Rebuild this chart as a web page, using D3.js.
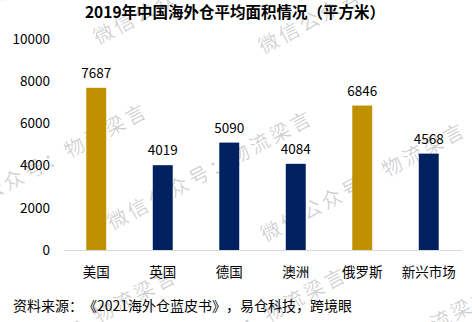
<!DOCTYPE html>
<html>
<head>
<meta charset="utf-8">
<script src="https://cdn.jsdelivr.net/npm/d3@7/dist/d3.min.js"></script>
<style>
  html, body { margin: 0; padding: 0; background: #fff; }
  svg { display: block; font-family: "Noto Sans CJK SC", "Noto Sans", sans-serif; text-spacing-trim: space-all; }
</style>
</head>
<body>
<svg id="chart" width="472" height="322"></svg>
<script>
// 2019年中国海外仓平均面积（平方米）
const categories = ["美国", "英国", "德国", "澳洲", "俄罗斯", "新兴市场"];
const areas = [7687, 4019, 5090, 4084, 6846, 4568];
const highlight = [true, false, false, false, true, false];
const yTicks = [0, 2000, 4000, 6000, 8000, 10000];
const titleText = "2019年中国海外仓平均面积情况（平方米）";
const sourceText = "资料来源：《2021海外仓蓝皮书》，易仓科技，跨境眼";
const watermarkText = "微信公众号：物流梁言";

// Layout
const W = 472, H = 322;
const plot = { left: 63, right: 462, top: 39, bottom: 250 };
const colors = { gold: "#BF9000", navy: "#002060", axis: "#d9d9d9", text: "#000" };
// Watermark tiles (first-glyph centres)
const wmSpots = [[-62, 24], [103, 33], [268, 42],
                 [-48, 211], [117, 218], [270, 230],
                 [-19, 376], [151, 375], [298, 395]];

const svg = d3.select("#chart");

// watermark layer, beneath the bars
const wm = svg.append("g").attr("class", "watermark");
wmSpots.forEach(([x, y]) => {
  wm.append("text")
    .attr("transform", `translate(${x},${y}) rotate(-28)`)
    .attr("x", -10)
    .attr("dominant-baseline", "central")
    .attr("font-size", 20)
    .attr("letter-spacing", 3)
    .attr("fill", "#000")
    .attr("fill-opacity", 0.19)
    .text(watermarkText);
});

const x = d3.scaleBand()
  .domain(categories)
  .range([plot.left, plot.right])
  .paddingInner(0.7)
  .paddingOuter(0.35);

const y = d3.scaleLinear()
  .domain([0, 10000])
  .range([plot.bottom, plot.top]);

// title
svg.append("text")
  .attr("x", 235)
  .attr("y", 18)
  .attr("text-anchor", "middle")
  .attr("font-size", 15.5)
  .attr("font-weight", "bold")
  .attr("fill", colors.text)
  .text(titleText);

// y axis labels (no line, no ticks)
const yAxis = svg.append("g")
  .attr("transform", `translate(${plot.left - 13},0)`)
  .call(d3.axisLeft(y).tickValues(yTicks).tickSize(0).tickPadding(0).tickFormat(d3.format("d")));
yAxis.select(".domain").remove();
yAxis.selectAll("text")
  .attr("font-size", 13.5)
  .attr("font-family", "'Noto Sans CJK SC', 'Noto Sans', sans-serif")
  .attr("fill", colors.text);

// bars
const data = categories.map((c, i) => ({ c, v: areas[i], hi: highlight[i] }));
svg.append("g").selectAll("rect")
  .data(data)
  .join("rect")
  .attr("x", d => x(d.c))
  .attr("y", d => y(d.v))
  .attr("width", x.bandwidth())
  .attr("height", d => y(0) - y(d.v))
  .attr("fill", d => d.hi ? colors.gold : colors.navy);

// value labels
svg.append("g").selectAll("text")
  .data(data)
  .join("text")
  .attr("x", d => x(d.c) + x.bandwidth() / 2)
  .attr("y", d => y(d.v) - 10)
  .attr("text-anchor", "middle")
  .attr("font-size", 13.5)
  .attr("fill", colors.text)
  .text(d => d.v);

// x axis
const xAxis = svg.append("g")
  .attr("transform", `translate(0,${plot.bottom})`)
  .call(d3.axisBottom(x).tickSize(0).tickPadding(17).tickSizeOuter(0));
xAxis.select(".domain").attr("stroke", colors.axis).attr("stroke-width", 1);
xAxis.selectAll("text")
  .attr("font-size", 13.5)
  .attr("font-family", "'Noto Sans CJK SC', 'Noto Sans', sans-serif")
  .attr("fill", colors.text);

// source note
svg.append("text")
  .attr("x", 13)
  .attr("y", 311)
  .attr("font-size", 14)
  .attr("fill", colors.text)
  .text(sourceText);
</script>
</body>
</html>
